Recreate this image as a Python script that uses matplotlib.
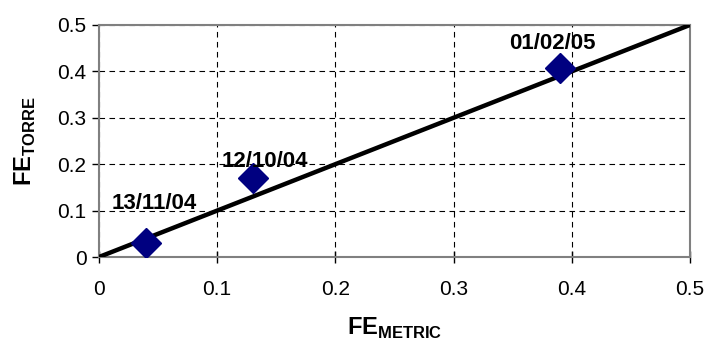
import matplotlib
matplotlib.use("Agg")
import matplotlib.pyplot as plt

plt.rcParams['font.family'] = ['Liberation Sans', 'DejaVu Sans']
plt.rcParams['mathtext.fontset'] = 'custom'
plt.rcParams['mathtext.rm'] = 'Liberation Sans:bold'
plt.rcParams['mathtext.bf'] = 'Liberation Sans:bold'

# data
fe_metric = [0.04, 0.13, 0.39]
fe_torre = [0.03, 0.17, 0.407]
dates = ['13/11/04', '12/10/04', '01/02/05']
label_pos = [(0.047, 0.116), (0.14, 0.205), (0.384, 0.461)]
ref_line = [0, 0.5]
ticks = [0, 0.1, 0.2, 0.3, 0.4, 0.5]
tick_labels = ['0', '0.1', '0.2', '0.3', '0.4', '0.5']

fig = plt.figure(figsize=(7.09, 3.49), dpi=100)
ax = fig.add_axes([0.1396, 0.2636, 0.8334, 0.6648])

ax.plot(ref_line, ref_line, color='black', lw=3.2, solid_capstyle='round', zorder=3)
ax.plot(fe_metric, fe_torre, ls='none', marker='D', ms=15, color='#000080', zorder=4)

for txt, (tx, ty) in zip(dates, label_pos):
    ax.text(tx, ty, txt, ha='center', va='center', fontsize=16, fontweight='bold', zorder=5)

ax.set_xlim(0, 0.5)
ax.set_ylim(0, 0.5)
ax.set_xticks(ticks)
ax.set_xticklabels(tick_labels)
ax.set_yticks(ticks)
ax.set_yticklabels(tick_labels)
ax.tick_params(axis='x', direction='inout', length=9, width=1, color='black', labelsize=15, pad=12)
ax.tick_params(axis='y', direction='out', length=5, width=1, color='black', labelsize=15, pad=4)

ax.grid(True, color='black', ls=(0, (5, 4)), lw=0.8)
ax.set_axisbelow(True)
for s in ax.spines.values():
    s.set_color('#808080')
    s.set_linewidth(1.5)

ax.set_xlabel(r'$\mathrm{FE}_{\mathrm{METRIC}}$', fontsize=17, labelpad=12)
ax.set_ylabel(r'$\mathrm{FE}_{\mathrm{TORRE}}$', fontsize=17, labelpad=14)

fig.savefig('out.png', dpi=100)
